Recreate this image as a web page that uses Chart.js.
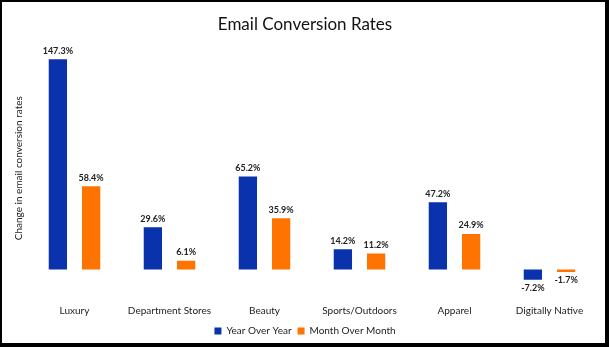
<!DOCTYPE html>
<html>
<head>
<meta charset="utf-8">
<script src="https://cdn.jsdelivr.net/npm/chart.js@4"></script>
<style>
    html, body { margin: 0; padding: 0; background: #fff; }
    #frame {
        width: 609px;
        height: 347px;
        box-sizing: border-box;
        border-left: 2px solid #000;
        border-top: 2px solid #000;
        border-right: 4px solid #000;
        border-bottom: 4px solid #000;
        position: relative;
    }
    #chartBox { position: absolute; left: 0; top: 0; width: 603px; height: 341px; }
</style>
</head>
<body>
<div id="frame">
    <div id="chartBox"><canvas id="conversionChart"></canvas></div>
</div>
<script>
// chart data
const categories = ['Luxury', 'Department Stores', 'Beauty', 'Sports/Outdoors', 'Apparel', 'Digitally Native'];
const yearOverYear = [147.3, 29.6, 65.2, 14.2, 47.2, -7.2];
const monthOverMonth = [58.4, 6.1, 35.9, 11.2, 24.9, -1.7];
const seriesNames = ['Year Over Year', 'Month Over Month'];

const fontFamily = 'Lato, "Noto Sans", sans-serif';

// draws the percentage above (or below) every bar
const barLabels = {
    id: 'barLabels',
    afterDatasetsDraw(chart) {
        const ctx = chart.ctx;
        ctx.save();
        ctx.font = 'bold 9px ' + fontFamily;
        ctx.fillStyle = '#222';
        ctx.textAlign = 'center';
        chart.data.datasets.forEach((ds, i) => {
            chart.getDatasetMeta(i).data.forEach((bar, j) => {
                const v = ds.data[j];
                const text = v.toFixed(1) + '%';
                if (v >= 0) {
                    ctx.textBaseline = 'bottom';
                    ctx.fillText(text, bar.x, bar.y - 4);
                } else {
                    ctx.textBaseline = 'top';
                    ctx.fillText(text, bar.x, bar.y + 4);
                }
            });
        });
        ctx.restore();
    }
};

new Chart(document.getElementById('conversionChart'), {
    type: 'bar',
    data: {
        labels: categories,
        datasets: [
            {
                label: seriesNames[0],
                data: yearOverYear,
                backgroundColor: '#0a32ad',
                categoryPercentage: 0.7,
                barPercentage: 0.55
            },
            {
                label: seriesNames[1],
                data: monthOverMonth,
                backgroundColor: '#ff7300',
                categoryPercentage: 0.7,
                barPercentage: 0.55
            }
        ]
    },
    options: {
        responsive: true,
        maintainAspectRatio: false,
        animation: false,
        layout: { padding: { left: 11, right: 8, top: 6, bottom: -3 } },
        plugins: {
            title: {
                display: true,
                text: 'Email Conversion Rates',
                color: '#111',
                font: { family: fontFamily, size: 17, weight: 'normal' },
                padding: { top: 6, bottom: 21 }
            },
            legend: {
                position: 'bottom',
                labels: {
                    boxWidth: 7,
                    boxHeight: 7,
                    padding: 6,
                    color: '#222',
                    font: { family: fontFamily, size: 10 }
                }
            },
            tooltip: { enabled: false }
        },
        scales: {
            x: {
                grid: { display: false },
                border: { display: false },
                ticks: {
                    color: '#222',
                    padding: 16,
                    font: { family: fontFamily, size: 10 }
                },
                // labels sit close to the legend
                afterFit: scale => { scale.height -= 13; }
            },
            y: {
                min: -8,
                max: 150,
                ticks: { display: false },
                border: { display: false },
                grid: {
                    drawTicks: false,
                    color: ctx => ctx.tick.value === 0 ? '#d0d0d0' : 'rgba(0,0,0,0)',
                    lineWidth: 1.5
                },
                title: {
                    display: true,
                    text: 'Change in email conversion rates',
                    color: '#222',
                    font: { family: fontFamily, size: 10 },
                    padding: { top: 0, bottom: 2 }
                }
            }
        }
    },
    plugins: [barLabels]
});
</script>
</body>
</html>
